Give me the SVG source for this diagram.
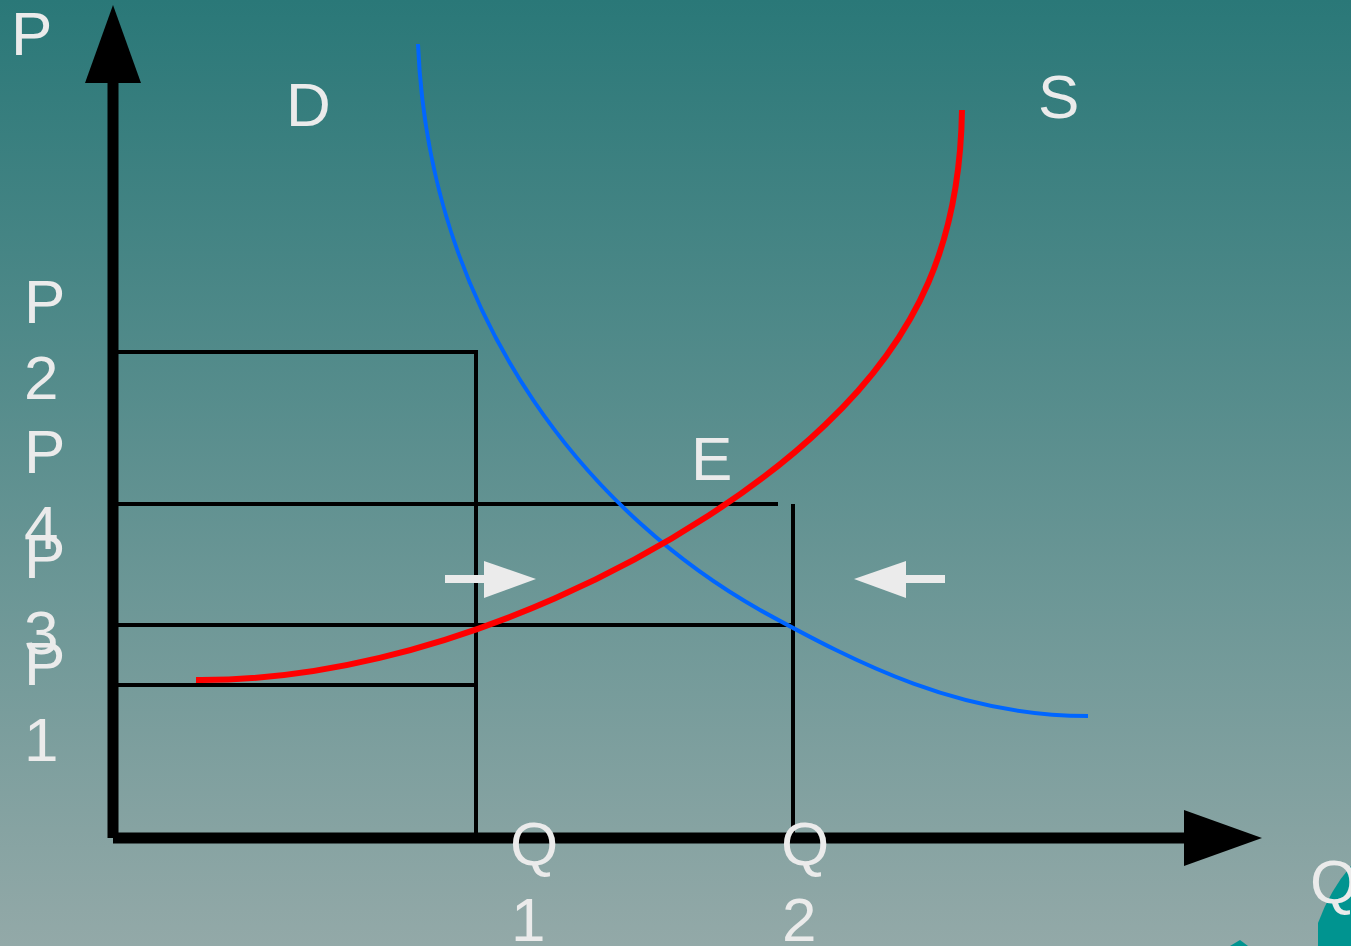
<svg xmlns="http://www.w3.org/2000/svg" width="1351" height="946" viewBox="0 0 1351 946">
<defs>
<linearGradient id="bg" x1="0" y1="0" x2="0" y2="1">
<stop offset="0" stop-color="#2A7878"/>
<stop offset="1" stop-color="#93A9A8"/>
</linearGradient>
<style>
.lbl{font-family:"Liberation Sans",Arial,sans-serif;font-size:62px;fill:#EBEBEB}
.axis{stroke:#000;stroke-width:11;fill:none}
.grid{stroke:#000;stroke-width:4;fill:none}
.arr{fill:#EBEBEB}
</style>
</defs>
<rect width="1351" height="946" fill="url(#bg)"/>
<path d="M1318,946 L1318,923 Q1330,890 1351,866 L1351,946 Z" fill="#009490"/>
<path d="M1230,946 L1240,940 L1248,946 Z" fill="#009490"/>
<g id="axes">
<line class="axis" x1="113" y1="80" x2="113" y2="838"/>
<polygon points="113,5 85,83 141,83" fill="#000"/>
<line class="axis" x1="113" y1="838" x2="1190" y2="838"/>
<polygon points="1262,838 1184,810 1184,866" fill="#000"/>
</g>
<g id="connectors">
<polyline class="grid" points="113,352 476,352 476,838"/>
<line class="grid" x1="113" y1="504" x2="778" y2="504"/>
<line class="grid" x1="793" y1="504" x2="793" y2="838"/>
<line class="grid" x1="113" y1="625" x2="793" y2="625"/>
<line class="grid" x1="113" y1="685" x2="476" y2="685"/>
</g>
<g id="demand">
<path d="M418,44 C430,330 600,520 760,610 C860,665 960,716 1088,716" stroke="#0066FF" stroke-width="4" fill="none"/>
</g>
<g id="supply">
<path d="M196,680 C440,682 700,545 825,425 C920,335 960,240 962,110" stroke="#FF0000" stroke-width="6" fill="none"/>
</g>
<g id="arrows">
<rect class="arr" x="445" y="575" width="41" height="8"/>
<polygon class="arr" points="484,561 536,579 484,598"/>
<rect class="arr" x="904" y="575" width="41" height="8"/>
<polygon class="arr" points="906,561 854,579 906,598"/>
</g>
<g id="labels">
<text class="lbl" x="11" y="55">P</text>
<text class="lbl" x="286" y="126">D</text>
<text class="lbl" x="1038" y="118">S</text>
<text class="lbl" x="691" y="480">E</text>
<text class="lbl" x="24" y="323">P</text>
<text class="lbl" x="24" y="399">2</text>
<text class="lbl" x="24" y="473">P</text>
<text class="lbl" x="24" y="549">4</text>
<text class="lbl" x="24" y="578">P</text>
<text class="lbl" x="24" y="654">3</text>
<text class="lbl" x="24" y="685">P</text>
<text class="lbl" x="24" y="761">1</text>
<text class="lbl" x="510" y="865">Q</text>
<text class="lbl" x="511" y="941">1</text>
<text class="lbl" x="781" y="865">Q</text>
<text class="lbl" x="782" y="941">2</text>
<text class="lbl" x="1310" y="903">Q</text>
</g>
</svg>
